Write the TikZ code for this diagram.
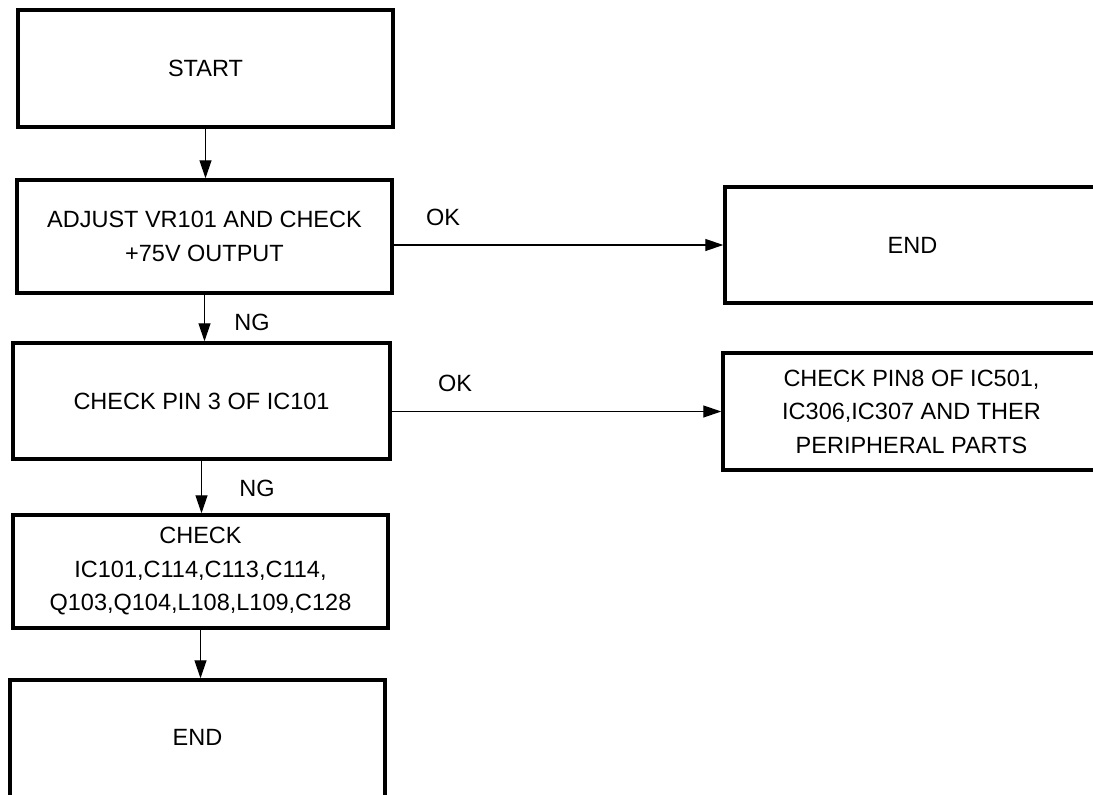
\documentclass[tikz,border=0pt]{standalone}
\usepackage{fontspec}
\setmainfont{Liberation Sans}
\usetikzlibrary{arrows.meta}
\begin{document}
\begin{tikzpicture}[x=1pt,y=-1pt,
  box/.style={draw, line width=3.5pt, rectangle, inner sep=0pt, align=center,
    font=\fontsize{23.5}{33.5}\selectfont},
  flow/.style={line width=1.3pt, -{Triangle[length=18pt,width=12pt]}},
  lbl/.style={font=\fontsize{23.5}{28}\selectfont, inner sep=0pt}]
\useasboundingbox (0,0) rectangle (1093,795);
\clip (0,0) rectangle (1093,795);
\fill[white] (0,0) rectangle (1093,795);

% left column
\node[box, minimum width=375pt, minimum height=117pt] (start) at (205.5,68.5) {START};
\node[box, minimum width=375pt, minimum height=113pt] (adj) at (204.5,236.5) {ADJUST VR101 AND CHECK\\+75V OUTPUT};
\node[box, minimum width=377pt, minimum height=116pt] (pin) at (201.5,401) {CHECK PIN 3 OF IC101};
\node[box, minimum width=375pt, minimum height=113pt] (chk) at (200.5,571.5) {CHECK\\IC101,C114,C113,C114,\\Q103,Q104,L108,L109,C128};
\node[box, minimum width=375pt, minimum height=124pt,
  label={[font=\fontsize{23.5}{28}\selectfont, yshift=5pt]center:END}] (endb) at (197.5,742) {};

% right column
\node[box, minimum width=375pt, minimum height=116pt] (endr) at (912.5,245) {END};
\node[box, minimum width=377pt, minimum height=117pt] (rchk) at (911.5,411.5) {CHECK PIN8 OF IC501,\\IC306,IC307 AND THER\\PERIPHERAL PARTS};

% connectors
\draw[flow] (start.south) -- (start.south |- adj.north);
\draw[flow] (adj.south) -- (adj.south |- pin.north);
\draw[flow] (pin.south) -- (pin.south |- chk.north);
\draw[flow] (chk.south) -- (chk.south |- endb.north);
\draw[flow] (endr.west -| adj.east) -- (endr.west);
\draw[flow] (rchk.west -| pin.east) -- (rchk.west);

% labels
\node[lbl] (ok1) at (443,217) {OK};
\node[lbl] (ok2) at (455,383) {OK};
\node[lbl] (ng1) at (252,322) {NG};
\node[lbl] (ng2) at (257,488) {NG};
\end{tikzpicture}
\end{document}
